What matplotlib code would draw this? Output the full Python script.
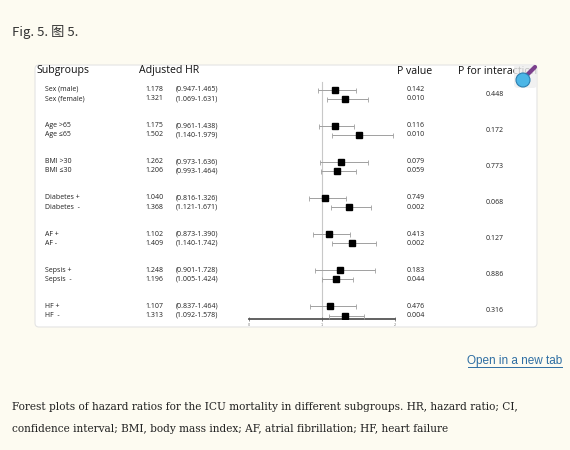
import matplotlib
matplotlib.use("Agg")
import matplotlib.pyplot as plt
from matplotlib.patches import FancyBboxPatch, Circle
from matplotlib.transforms import blended_transform_factory
from matplotlib.lines import Line2D

# ---------------- data ----------------
subgroups = ["Sex (male)", "Sex (female)", "Age >65", "Age \u226465", "BMI >30", "BMI \u226430",
             "Diabetes +", "Diabetes  -", "AF +", "AF -", "Sepsis +", "Sepsis  -", "HF +", "HF  -"]
hr = [1.178, 1.321, 1.175, 1.502, 1.262, 1.206, 1.040, 1.368, 1.102, 1.409, 1.248, 1.196, 1.107, 1.313]
ci_low = [0.947, 1.069, 0.961, 1.140, 0.973, 0.993, 0.816, 1.121, 0.873, 1.140, 0.901, 1.005, 0.837, 1.092]
ci_high = [1.465, 1.631, 1.438, 1.979, 1.636, 1.464, 1.326, 1.671, 1.390, 1.742, 1.728, 1.424, 1.464, 1.578]
p_values = ["0.142", "0.010", "0.116", "0.010", "0.079", "0.059", "0.749", "0.002",
            "0.413", "0.002", "0.183", "0.044", "0.476", "0.004"]
p_interaction = ["0.448", "0.172", "0.773", "0.068", "0.127", "0.886", "0.316"]
x_ticks = [0, 1, 2]

W, H = 570, 450
BG = "#fdfbf1"
SANS = ["Open Sans", "DejaVu Sans"]
SERIF = ["DejaVu Serif"]

fig = plt.figure(figsize=(W / 100, H / 100), dpi=100, facecolor=BG)

# background / page layer in pixel coordinates
bg = fig.add_axes([0, 0, 1, 1])
bg.set_xlim(0, W)
bg.set_ylim(H, 0)
bg.axis("off")
bg.set_facecolor(BG)

panel = FancyBboxPatch((35, 65), 502, 262, boxstyle="round,pad=0,rounding_size=4",
                       facecolor="white", edgecolor="#e4e4e4", linewidth=0.8)
bg.add_patch(panel)

# page texts
bg.text(12, 32, "Fig. 5. \u56fe 5.", fontsize=9.5, family=["Noto Sans CJK SC", "DejaVu Sans"],
        color="#333333", va="center", ha="left")
bg.text(562, 361, "Open in a new tab", fontsize=8.5, family=["Liberation Sans", "DejaVu Sans"],
        color="#2e6ea3", va="center", ha="right")
bg.plot([468, 562], [366.5, 366.5], color="#2e6ea3", lw=0.7)
bg.text(12, 407, "Forest plots of hazard ratios for the ICU mortality in different subgroups. HR, hazard ratio; CI,",
        fontsize=7.6, family=SERIF, color="#222222", va="center", ha="left")
bg.text(12, 429, "confidence interval; BMI, body mass index; AF, atrial fibrillation; HF, heart failure",
        fontsize=7.6, family=SERIF, color="#222222", va="center", ha="left")

# headers
hdr = dict(fontsize=7.6, family=SANS, color="#111111", va="center", ha="left")
bg.text(36, 71, "Subgroups", **hdr)
bg.text(139, 71, "Adjusted HR", **hdr)
bg.text(397, 71, "P value", **hdr)
bg.text(458, 71, "P for interaction", **hdr)

# forest axes (x: HR scale 0..2)
ax_left, ax_right = 249, 395
ax_top, ax_bot = 75, 319
ax = fig.add_axes([ax_left / W, 1 - ax_bot / H, (ax_right - ax_left) / W, (ax_bot - ax_top) / H])
ax.set_facecolor("none")
ax.set_xlim(0, 2)
row_y = [(i // 2) * 4 + (i % 2) for i in range(len(hr))]
px_per_unit = 9.04
first_px = 89.5
ax.set_ylim((ax_bot - first_px) / px_per_unit, (ax_top - first_px) / px_per_unit)

for s in ["top", "right", "left"]:
    ax.spines[s].set_visible(False)
ax.spines["bottom"].set_color("#555555")
ax.spines["bottom"].set_linewidth(1.3)
ax.set_yticks([])
ax.set_xticks(x_ticks)
ax.set_xticklabels([str(t) for t in x_ticks], fontsize=2.5, color="#777777")
ax.tick_params(axis="x", length=2.5, width=0.6, color="#777777", pad=1.5, direction="inout")

ax.axvline(1, ymin=0, ymax=0.97, color="#c8c8c8", lw=0.8, zorder=1)

xerr = [[h - l for h, l in zip(hr, ci_low)], [u - h for h, u in zip(hr, ci_high)]]
ax.errorbar(hr, row_y, xerr=xerr, fmt="s", color="black", ms=4.2, ecolor="#a0a0a0",
            elinewidth=0.7, capsize=1.8, capthick=0.6, zorder=3)

# row texts
tr = blended_transform_factory(bg.transData, ax.transData)
small = dict(fontsize=5.0, family=SANS, color="#222222", va="center", ha="left", transform=tr)
for i, y in enumerate(row_y):
    bg.text(45, y, subgroups[i], **small)
    bg.text(145, y, f"{hr[i]:.3f}", **small)
    bg.text(176, y, f"({ci_low[i]:.3f}-{ci_high[i]:.3f})", **small)
    bg.text(407, y, p_values[i], **small)
for g, pv in enumerate(p_interaction):
    bg.text(486, g * 4 + 0.5, pv, **small)

# magnifier icon in corner
bg.add_patch(FancyBboxPatch((514, 64), 23, 24, boxstyle="round,pad=0,rounding_size=4",
                            facecolor="#eeeeee", edgecolor="none", alpha=0.8, zorder=4))
bg.add_line(Line2D([526, 535], [76, 67], color="#7b3f8c", lw=3, solid_capstyle="round", zorder=5))
bg.add_patch(Circle((523, 80), 7, facecolor="#4cb6e6", edgecolor="#2d7fb0", lw=0.8, zorder=6))

fig.savefig("out.png", dpi=100, facecolor=BG)
